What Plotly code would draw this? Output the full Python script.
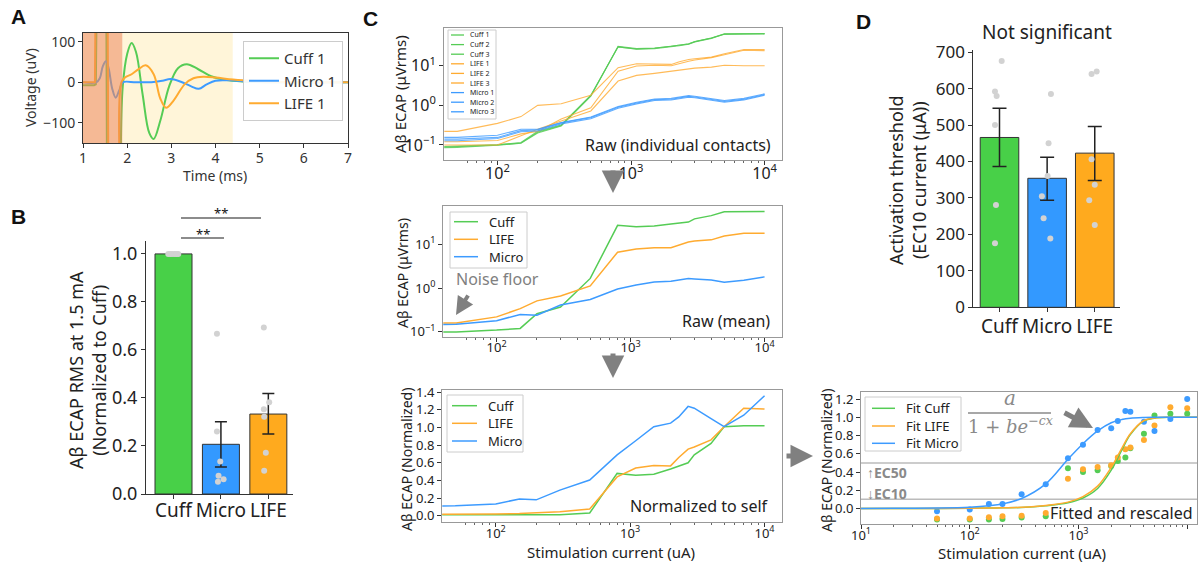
import plotly.graph_objects as go

W, H = 1198, 562
def X(p): return p / W
def Y(p): return 1 - p / H

GREEN = '#55CC55'
BLUE = '#3D9BFF'
ORANGE = '#FFAB30'
GREEN_BAR = '#48D048'
BLUE_BAR = '#3399FF'
ORANGE_BAR = '#FFAA1E'
DOT = '#D2D2D2'
GRAY = '#808080'
FONT = 'Noto Sans'

# ---------------- Panel A : example waveforms (time ms, voltage uV) ----------------
a_cuff_art_t = [1.0, 1.25, 1.29, 1.33, 1.52, 1.55, 1.84, 1.86]
a_cuff_art_v = [-7, -7, -5, 400, 400, -400, -400, -140]
a_cuff_t = [1.86, 1.9, 2.0, 2.1, 2.2, 2.35, 2.5, 2.6, 2.75, 2.95, 3.15, 3.35, 3.6, 3.9, 4.3, 4.8, 5.5, 7.0]
a_cuff_v = [-140, -10, 70, 97, 75, -30, -125, -140, -95, -10, 35, 45, 33, 15, 5, 1, 0, 0]

a_micro_t = [1.0, 1.3, 1.38, 1.45, 1.52, 1.58, 1.66, 1.74, 1.82, 1.9, 2.2, 2.6, 2.8, 2.98, 3.2,
             3.45, 3.62, 3.8, 4.0, 4.3, 4.8, 5.5, 7.0]
a_micro_v = [0, 0, 10, 40, 52, 35, -15, -38, -20, 0, 0, 1, 4, 8, 2, -10, -16, -5, 4, 5, 2, 0, 0]

a_life_art_t = [1.0, 1.27, 1.30, 1.55, 1.58, 1.80, 1.82]
a_life_art_v = [0, 0, 400, 400, -400, -400, -150]
a_life_t = [1.82, 1.87, 1.95, 2.1, 2.25, 2.42, 2.6, 2.75, 2.88, 3.05, 3.3, 3.5, 3.72, 4.0, 4.4, 5.0, 5.6, 7.0]
a_life_v = [-150, 0, 12, 20, 32, 42, 20, -40, -63, -45, -5, 10, 14, 12, 7, 3, 1, 0]

a_stim_window = [1.0, 1.89]
a_ecap_window = [1.89, 4.39]

# ---------------- Panel B ----------------
b_categories = ['Cuff', 'Micro', 'LIFE']
b_means = [1.0, 0.207, 0.333]
b_err_hi = [1.0, 0.301, 0.419]
b_err_lo = [1.0, 0.112, 0.250]
b_dots = [[1.0, 1.0, 1.0, 1.0, 1.0, 1.0],
          [0.667, 0.26, 0.135, 0.076, 0.051, 0.061],
          [0.693, 0.382, 0.353, 0.322, 0.172, 0.097]]
b_jitter = [[-0.11, -0.07, -0.03, 0.02, 0.06, 0.1],
            [-0.084, -0.084, -0.014, -0.05, -0.063, 0.056],
            [-0.095, 0.018, -0.095, -0.088, -0.053, -0.088]]

# ---------------- Panel C ----------------
currents = [40, 50, 100, 150, 200, 300, 500, 800, 1100, 1500, 2000, 2300, 2700, 3000, 4000, 5000, 7000, 10000]

cuff1 = [0.085, 0.087, 0.098, 0.11, 0.20, 0.30, 1.7, 31, 27, 28, 31, 33, 36, 41, 50, 64, 65, 65]
cuff2 = [0.088, 0.09, 0.10, 0.112, 0.21, 0.31, 1.75, 30, 26, 27, 30, 32, 35, 40, 49, 63, 64, 64]
cuff3 = [0.091, 0.093, 0.102, 0.115, 0.22, 0.32, 1.8, 30, 26.5, 27.5, 30.5, 32.5, 35.5, 40.5, 50, 62, 63, 63]
life1 = [0.22, 0.22, 0.35, 0.52, 1.0, 1.1, 1.8, 8.9, 11.2, 11, 10.8, 12.6, 14.4, 15, 16.5, 20, 25.7, 25.7]
life2 = [0.12, 0.12, 0.13, 0.19, 0.22, 0.45, 0.87, 7.3, 9.8, 10.3, 10, 11.5, 13, 14, 16, 19, 24.5, 24]
life3 = [0.10, 0.10, 0.10, 0.17, 0.25, 0.40, 0.72, 4.1, 5.7, 6.4, 7.3, 7.8, 8.4, 8.7, 9.2, 10.3, 10, 10]
micro1 = [0.155, 0.155, 0.175, 0.25, 0.25, 0.37, 0.51, 0.93, 1.2, 1.45, 1.5, 1.6, 1.76, 1.7, 1.5, 1.32, 1.5, 1.95]
micro2 = [0.14, 0.14, 0.155, 0.23, 0.24, 0.36, 0.49, 0.89, 1.15, 1.39, 1.43, 1.53, 1.68, 1.63, 1.43, 1.26, 1.43, 1.87]
micro3 = [0.128, 0.128, 0.145, 0.215, 0.225, 0.34, 0.46, 0.84, 1.09, 1.32, 1.36, 1.46, 1.6, 1.55, 1.37, 1.2, 1.37, 1.8]

mean_cuff = [0.10, 0.10, 0.11, 0.12, 0.26, 0.37, 1.66, 27, 25, 26, 29, 30.5, 32, 38, 45, 55, 56, 56]
mean_life = [0.16, 0.16, 0.22, 0.34, 0.51, 0.66, 1.12, 6.6, 7.8, 8.3, 8.3, 9.6, 11.2, 11.8, 12.6, 15.5, 17.8, 17.8]
mean_micro = [0.147, 0.15, 0.18, 0.25, 0.24, 0.41, 0.55, 0.95, 1.17, 1.38, 1.44, 1.55, 1.66, 1.62, 1.52, 1.35, 1.5, 1.8]

norm_cuff = [0.01, 0.01, 0.01, 0.01, 0.01, 0.012, 0.03, 0.48, 0.46, 0.47, 0.53, 0.56, 0.60, 0.69, 0.82, 1.01, 1.02, 1.02]
norm_life = [0.015, 0.015, 0.02, 0.025, 0.035, 0.045, 0.075, 0.44, 0.54, 0.57, 0.565, 0.66, 0.755, 0.78, 0.86, 1.01, 1.22, 1.21]
norm_micro = [0.11, 0.112, 0.133, 0.19, 0.18, 0.29, 0.405, 0.69, 0.85, 1.01, 1.05, 1.12, 1.24, 1.22, 1.10, 1.01, 1.14, 1.36]

# ---------------- Panel D ----------------
d_categories = ['Cuff', 'Micro', 'LIFE']
d_means = [466, 354, 423]
d_err_hi = [546, 412, 496]
d_err_lo = [386, 294, 348]
d_dots = [[676, 592, 580, 500, 281, 176],
          [585, 450, 360, 305, 244, 189],
          [640, 647, 406, 336, 294, 226]]
d_jitter = [[0.046, -0.095, -0.06, -0.095, -0.074, -0.095],
            [0.08, 0.03, 0.01, -0.11, -0.074, 0.067],
            [-0.067, 0.04, -0.067, 0.0, -0.116, 0.0]]

# ---------------- Fitted panel ----------------
fit_currents = [50, 100, 150, 200, 300, 500, 800, 1100, 1500, 2000, 2300, 2700, 3000, 4000, 5000, 7000, 10000]
fit_dots_cuff = [-0.12, -0.12, -0.12, -0.115, -0.10, -0.085, 0.44, 0.40, 0.42, 0.465, 0.52, 0.56, 0.66, 0.82, 1.02, 1.04, 1.04]
fit_dots_life = [-0.11, -0.11, -0.095, -0.085, -0.08, -0.05, 0.325, 0.43, 0.455, 0.475, 0.56, 0.65, 0.67, 0.75, 0.91, 1.11, 1.10]
fit_dots_micro = [-0.03, -0.01, 0.05, 0.05, 0.155, 0.265, 0.55, 0.70, 0.86, 0.88, 0.96, 1.07, 1.06, 0.95, 0.85, 0.98, 1.20]

fit_curve_x = [10, 20, 50, 100, 150, 200, 300, 500, 800, 1100, 1500, 2000, 2500, 3000, 4000, 5000, 7000, 10000, 12300]
fit_curve_cuff = [0.0, 0.0, 0.001, 0.003, 0.005, 0.007, 0.011, 0.03, 0.062, 0.115, 0.22, 0.42, 0.64, 0.81, 0.96, 0.99, 1.0, 1.0, 1.0]
fit_curve_life = [0.0, 0.0, 0.001, 0.003, 0.005, 0.008, 0.013, 0.033, 0.07, 0.13, 0.245, 0.45, 0.66, 0.82, 0.965, 0.993, 1.0, 1.0, 1.0]
fit_curve_micro = [0.0, 0.002, 0.006, 0.015, 0.03, 0.05, 0.11, 0.27, 0.54, 0.71, 0.85, 0.94, 0.975, 0.99, 0.998, 1.0, 1.0, 1.0, 1.0]
ec_levels = [0.5, 0.1]

minor_c = [60, 70, 80, 90, 200, 300, 400, 500, 600, 700, 800, 900,
           2000, 3000, 4000, 5000, 6000, 7000, 8000, 9000]
minor_fit = [20, 30, 40, 50, 60, 70, 80, 90] + minor_c[4:]

fig = go.Figure()
shapes = []
annotations = []


def manual_legend(entries, box, line_x, text_x, row_y, size, lw=1.5):
    """Draw a matplotlib-like legend box: entries = [(name, color), ...]."""
    x0, y0, x1, y1 = box
    shapes.append(dict(type='rect', xref='paper', yref='paper', x0=X(x0), x1=X(x1), y0=Y(y1), y1=Y(y0),
                       line=dict(color='#cccccc', width=1), fillcolor='rgba(255,255,255,0.92)', layer='above'))
    for (nm, col), yy in zip(entries, row_y):
        shapes.append(dict(type='line', xref='paper', yref='paper', x0=X(line_x[0]), x1=X(line_x[1]),
                           y0=Y(yy), y1=Y(yy), line=dict(color=col, width=lw), layer='above'))
        annotations.append(dict(text=nm, x=X(text_x), y=Y(yy), xref='paper', yref='paper', xanchor='left',
                                yanchor='middle', showarrow=False, font=dict(size=size, color='#222', family=FONT)))


# ---------- Panel A traces ----------
fig.add_trace(go.Scatter(x=a_cuff_art_t, y=a_cuff_art_v, mode='lines', line=dict(color=GREEN, width=2),
                         xaxis='x', yaxis='y', legendgroup='c1', showlegend=False))
fig.add_trace(go.Scatter(x=a_cuff_t, y=a_cuff_v, mode='lines', name='Cuff 1',
                         line=dict(color=GREEN, width=2, shape='spline'),
                         xaxis='x', yaxis='y', legendgroup='c1'))
fig.add_trace(go.Scatter(x=a_micro_t, y=a_micro_v, mode='lines', name='Micro 1',
                         line=dict(color=BLUE, width=2, shape='spline'), xaxis='x', yaxis='y'))
fig.add_trace(go.Scatter(x=a_life_art_t, y=a_life_art_v, mode='lines', line=dict(color=ORANGE, width=2),
                         xaxis='x', yaxis='y', legendgroup='l1', showlegend=False))
fig.add_trace(go.Scatter(x=a_life_t, y=a_life_v, mode='lines', name='LIFE 1',
                         line=dict(color=ORANGE, width=2, shape='spline'),
                         xaxis='x', yaxis='y', legendgroup='l1'))

# ---------- Panel B ----------
b_pos = list(range(len(b_categories)))
b_colors = [GREEN_BAR, BLUE_BAR, ORANGE_BAR]
fig.add_trace(go.Bar(x=b_pos, y=b_means, width=0.78, marker=dict(color=b_colors, line=dict(color='#333', width=1)),
                     error_y=dict(type='data', symmetric=False,
                                  array=[h - m for h, m in zip(b_err_hi, b_means)],
                                  arrayminus=[m - l for l, m in zip(b_err_lo, b_means)],
                                  color='#222', thickness=1.5, width=6),
                     xaxis='x2', yaxis='y2', showlegend=False))
for i, (vals, jit) in enumerate(zip(b_dots, b_jitter)):
    fig.add_trace(go.Scatter(x=[i + j for j in jit], y=vals, mode='markers',
                             marker=dict(color=DOT, size=6), xaxis='x2', yaxis='y2', showlegend=False))

# ---------- Panel C top (individual contacts) ----------
c_top_series = [('Cuff 1', cuff1, GREEN), ('Cuff 2', cuff2, GREEN), ('Cuff 3', cuff3, GREEN),
                ('LIFE 1', life1, ORANGE), ('LIFE 2', life2, ORANGE), ('LIFE 3', life3, ORANGE),
                ('Micro 1', micro1, BLUE), ('Micro 2', micro2, BLUE), ('Micro 3', micro3, BLUE)]
for nm, vals, col in c_top_series:
    fig.add_trace(go.Scatter(x=currents, y=vals, mode='lines', name=nm, line=dict(color=col, width=1.1),
                             opacity=0.8, xaxis='x3', yaxis='y3', showlegend=False))
manual_legend([(nm, col) for nm, _, col in c_top_series], (448, 30, 496, 119), (451, 464), 468,
              [35 + i * 9.6 for i in range(len(c_top_series))], 7, lw=1.3)

# ---------- Panel C middle (mean) ----------
c_mid_series = [('Cuff', mean_cuff, GREEN), ('LIFE', mean_life, ORANGE), ('Micro', mean_micro, BLUE)]
for nm, vals, col in c_mid_series:
    fig.add_trace(go.Scatter(x=currents, y=vals, mode='lines', name=nm, line=dict(color=col, width=1.5),
                             xaxis='x4', yaxis='y4', showlegend=False))
manual_legend([(nm, col) for nm, _, col in c_mid_series], (450, 212, 527, 268), (454, 478), 487,
              [221.7, 239.3, 256.7], 13)

# ---------- Panel C bottom (normalized) ----------
c_bot_series = [('Cuff', norm_cuff, GREEN), ('LIFE', norm_life, ORANGE), ('Micro', norm_micro, BLUE)]
for nm, vals, col in c_bot_series:
    fig.add_trace(go.Scatter(x=currents, y=vals, mode='lines', name=nm, line=dict(color=col, width=1.5),
                             xaxis='x5', yaxis='y5', showlegend=False))
manual_legend([(nm, col) for nm, _, col in c_bot_series], (447, 395, 523, 452), (452, 477), 486,
              [405.7, 423.3, 441], 13)

# ---------- Panel D ----------
d_pos = list(range(len(d_categories)))
fig.add_trace(go.Bar(x=d_pos, y=d_means, width=0.81, marker=dict(color=b_colors, line=dict(color='#333', width=1)),
                     error_y=dict(type='data', symmetric=False,
                                  array=[h - m for h, m in zip(d_err_hi, d_means)],
                                  arrayminus=[m - l for l, m in zip(d_err_lo, d_means)],
                                  color='#222', thickness=1.5, width=7),
                     xaxis='x6', yaxis='y6', showlegend=False))
for i, (vals, jit) in enumerate(zip(d_dots, d_jitter)):
    fig.add_trace(go.Scatter(x=[i + j for j in jit], y=vals, mode='markers',
                             marker=dict(color=DOT, size=6), xaxis='x6', yaxis='y6', showlegend=False))

# ---------- Fitted panel ----------
for vals, col in [(fit_dots_cuff, GREEN), (fit_dots_life, ORANGE), (fit_dots_micro, BLUE)]:
    fig.add_trace(go.Scatter(x=fit_currents, y=vals, mode='markers', marker=dict(color=col, size=6),
                             xaxis='x7', yaxis='y7', showlegend=False))
fit_series = [('Fit Cuff', fit_curve_cuff, GREEN), ('Fit LIFE', fit_curve_life, ORANGE),
              ('Fit Micro', fit_curve_micro, BLUE)]
for nm, vals, col in fit_series:
    fig.add_trace(go.Scatter(x=fit_curve_x, y=vals, mode='lines', name=nm,
                             line=dict(color=col, width=1.5, shape='spline'),
                             xaxis='x7', yaxis='y7', showlegend=False))
manual_legend([(nm, col) for nm, _, col in fit_series], (865, 397, 961, 451), (872, 895), 904,
              [408.3, 426, 443.3], 13)

# ---------- shapes ----------
shapes.append(dict(type='rect', xref='x', yref='y domain', x0=a_ecap_window[0], x1=a_ecap_window[1], y0=0, y1=1,
                   fillcolor='#FFF5D9', line=dict(width=0), layer='below'))
shapes.append(dict(type='rect', xref='x', yref='y domain', x0=a_stim_window[0], x1=a_stim_window[1], y0=0, y1=1,
                   fillcolor='#EE8A4E', opacity=0.6, line=dict(width=0), layer='above'))
for lv in ec_levels:
    shapes.append(dict(type='line', xref='x7 domain', yref='y7', x0=0, x1=1, y0=lv, y1=lv,
                       line=dict(color='#BBBBBB', width=1.5), layer='below'))
shapes.append(dict(type='line', xref='paper', yref='paper', x0=X(181), x1=X(224), y0=Y(238), y1=Y(238),
                   line=dict(color='#666', width=1.5)))
shapes.append(dict(type='line', xref='paper', yref='paper', x0=X(181), x1=X(261), y0=Y(218), y1=Y(218),
                   line=dict(color='#666', width=1.5)))
shapes.append(dict(type='line', xref='paper', yref='paper', x0=X(968), x1=X(1051), y0=Y(413), y1=Y(413),
                   line=dict(color='#8a8a8a', width=1.5)))


# ---------- annotations ----------
def ann(text, x, y, size, color='#222', xanchor='center', yanchor='middle', angle=0, family=FONT):
    annotations.append(dict(text=text, x=X(x), y=Y(y), xref='paper', yref='paper', showarrow=False,
                            xanchor=xanchor, yanchor=yanchor, textangle=angle,
                            font=dict(size=size, color=color, family=family)))


def arrow(x_head, y_head, x_tail, y_tail, width=5):
    annotations.append(dict(text='', x=X(x_head), y=Y(y_head), xref='paper', yref='paper', showarrow=True,
                            ax=x_tail - x_head, ay=y_tail - y_head, arrowhead=2, arrowsize=0.9,
                            arrowwidth=width, arrowcolor=GRAY))


for lt, lx, ly in [('A', 18, 17), ('B', 18, 217), ('C', 370, 18), ('D', 863, 21)]:
    ann('<b>' + lt + '</b>', lx, ly, 21, '#111', family='Liberation Sans')

ann('Voltage (uV)', 31, 88, 14, '#333', angle=-90)
ann('Time (ms)', 215, 175, 14, '#333')
ann('Aβ ECAP RMS at 1.5 mA<br>(Normalized to Cuff)', 87, 370, 18, '#222', angle=-90)
ann('**', 203, 234, 13, '#111')
ann('**', 221, 213, 13, '#111')
ann('Aβ ECAP (μVrms)', 400, 94, 15, '#222', angle=-90)
ann('Aβ ECAP (μVrms)', 402, 273, 14, '#222', angle=-90)
ann('Aβ ECAP (Normalized)', 406, 460, 14, '#222', angle=-90)
ann('Stimulation current (uA)', 611, 552, 15, '#222')
ann('Raw (individual contacts)', 773, 145, 16, '#222', xanchor='right')
ann('Raw (mean)', 772, 321, 16, '#222', xanchor='right')
ann('Normalized to self', 771, 506, 16, '#222', xanchor='right')
ann('Noise floor', 497, 279, 16, GRAY)
arrow(456, 315, 469, 294, 4)
arrow(613, 193, 613, 169, 5)
arrow(613, 378, 613, 352, 5)
arrow(813, 456, 785, 456, 5)
ann('Not significant', 1047, 32, 19, '#222')
ann('Activation threshold<br>(EC10 current (μA))', 907, 180, 18, '#222', angle=-90)
ann('Aβ ECAP (Normalized)', 826, 461, 14, '#222', angle=-90)
ann('Stimulation current (uA)', 1022, 553, 15, '#222')
ann('Fitted and rescaled', 1195, 513, 16, '#222', xanchor='right')
ann('<b>↑EC50</b>', 865, 472, 14, '#8a8a8a', xanchor='left')
ann('<b>↓EC10</b>', 865, 493, 14, '#8a8a8a', xanchor='left')
ann('<i>a</i>', 1010, 398, 20, '#8a8a8a', family='DejaVu Serif')
ann('1 + <i>be</i><sup>−<i>cx</i></sup>', 1010, 425, 18, '#8a8a8a', family='DejaVu Serif')
arrow(1093, 428, 1063, 412, 5)


# ---------- axes ----------
def ax(**kw):
    d = dict(showgrid=False, zeroline=False, ticks='outside', ticklen=4, tickwidth=1, tickcolor='#333',
             showline=True, linecolor='#333', linewidth=1, automargin=False,
             tickfont=dict(size=13, color='#222', family=FONT))
    d.update(kw)
    return d


log_ticks = dict(tickvals=[100, 1000, 10000], ticktext=['10<sup>2</sup>', '10<sup>3</sup>', '10<sup>4</sup>'])
ylog_ticks = dict(tickvals=[0.1, 1, 10], ticktext=['10<sup>−1</sup>', '10<sup>0</sup>', '10<sup>1</sup>'])
minor_c_d = dict(tickvals=minor_c, ticks='outside', ticklen=2, tickcolor='#666')

layout = dict(
    width=W, height=H, margin=dict(l=0, r=0, t=0, b=0, pad=0, autoexpand=False),
    paper_bgcolor='white', plot_bgcolor='white',
    font=dict(family=FONT, color='#222'),
    shapes=shapes, annotations=annotations,
    xaxis=ax(domain=[X(83), X(348)], anchor='y', range=[1, 7], tickvals=[1, 2, 3, 4, 5, 6, 7], mirror=True,
             tickfont=dict(size=14, color='#333'), ticklabelstandoff=-2),
    yaxis=ax(domain=[Y(143), Y(33)], anchor='x', range=[-150, 122], tickvals=[-100, 0, 100],
             ticktext=['−100', '0', '100'], mirror=True, tickfont=dict(size=14, color='#333')),
    xaxis2=ax(domain=[X(146), X(293)], anchor='y2', range=[-0.58, 2.52], tickvals=b_pos, ticktext=b_categories,
              tickfont=dict(size=19, color='#222'), ticklabelstandoff=-5),
    yaxis2=ax(domain=[Y(494), Y(240.7)], anchor='x2', range=[0, 1.055], tickvals=[0, 0.2, 0.4, 0.6, 0.8, 1.0],
              tickformat='.1f', tickfont=dict(size=18, color='#222')),
    xaxis3=ax(domain=[X(444), X(782)], anchor='y3', type='log', range=[1.6, 4.13], mirror=True, linecolor='#999',
              minor=minor_c_d, tickfont=dict(size=16, color='#222'), ticklabelstandoff=-5, **log_ticks),
    yaxis3=ax(domain=[Y(160), Y(27.7)], anchor='x3', type='log', range=[-1.38, 1.96], mirror=True, linecolor='#999',
              tickfont=dict(size=16, color='#222'), **ylog_ticks),
    xaxis4=ax(domain=[X(443), X(782)], anchor='y4', type='log', range=[1.6, 4.13], mirror=True, linecolor='#999',
              minor=minor_c_d, tickfont=dict(size=13, color='#222'), ticklabelstandoff=-5, **log_ticks),
    yaxis4=ax(domain=[Y(336.7), Y(205.7)], anchor='x4', type='log', range=[-1.11, 1.88], mirror=True,
              linecolor='#999', tickfont=dict(size=13, color='#222'), **ylog_ticks),
    xaxis5=ax(domain=[X(442), X(782)], anchor='y5', type='log', range=[1.6, 4.13], mirror=True, linecolor='#999',
              minor=minor_c_d, tickfont=dict(size=13, color='#222'), ticklabelstandoff=-5, **log_ticks),
    yaxis5=ax(domain=[Y(522.3), Y(390)], anchor='x5', range=[-0.075, 1.426], mirror=True, linecolor='#999',
              tickvals=[0, 0.2, 0.4, 0.6, 0.8, 1.0, 1.2, 1.4], tickformat='.1f',
              tickfont=dict(size=13, color='#222')),
    xaxis6=ax(domain=[X(973.3), X(1120)], anchor='y6', range=[-0.55, 2.53], tickvals=d_pos, ticktext=d_categories,
              tickfont=dict(size=19, color='#222'), ticklabelstandoff=-2),
    yaxis6=ax(domain=[Y(307.3), Y(50)], anchor='x6', range=[0, 706], tickvals=[0, 100, 200, 300, 400, 500, 600, 700],
              tickfont=dict(size=17, color='#222')),
    xaxis7=ax(domain=[X(861), X(1197)], anchor='y7', type='log', range=[1, 4.09], mirror=True, linecolor='#999',
              tickvals=[10, 100, 1000, 10000],
              ticktext=['10<sup>1</sup>', '10<sup>2</sup>', '10<sup>3</sup>', '10<sup>4</sup>'],
              minor=dict(tickvals=minor_fit, ticks='outside', ticklen=2, tickcolor='#666'),
              tickfont=dict(size=13, color='#222'), ticklabelstandoff=-5),
    yaxis7=ax(domain=[Y(524), Y(392.3)], anchor='x7', range=[-0.17, 1.274], mirror=True, linecolor='#999',
              tickvals=[0, 0.2, 0.4, 0.6, 0.8, 1.0, 1.2], tickformat='.1f', tickfont=dict(size=13, color='#222')),
    legend=dict(x=X(243), y=Y(41), xanchor='left', yanchor='top', bgcolor='rgba(255,255,255,0.92)',
                bordercolor='#cccccc', borderwidth=1, font=dict(size=15, color='#333'), tracegroupgap=0),
    showlegend=True,
)
fig.update_layout(**layout)
fig.write_html("out.html", config={'displayModeBar': False},
               post_script="document.body.style.margin='0';document.body.style.padding='0';"
                           "document.body.style.overflow='hidden';")
